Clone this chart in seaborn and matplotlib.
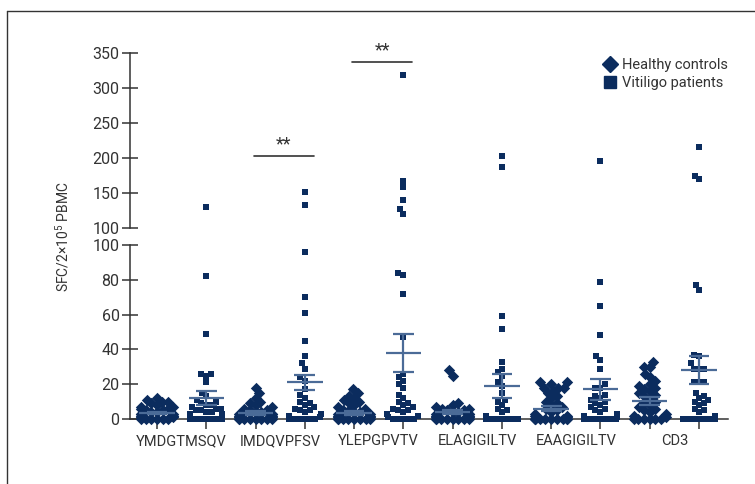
import numpy as np
import pandas as pd
import matplotlib
matplotlib.use("Agg")
import matplotlib.pyplot as plt
from matplotlib.lines import Line2D
import seaborn as sns

# peptides on the x axis
peptides = ["YMDGTMSQV", "IMDQVPFSV", "YLEPGPVTV", "ELAGIGILTV", "EAAGIGILTV", "CD3"]
groups = ["Healthy controls", "Vitiligo patients"]

# SFC/2x10^5 PBMC, healthy controls (hc) and vitiligo patients (vp)
hc_ymdg = [0, 0, 0, 0, 0, 0, 1, 1, 2, 2, 2, 3, 3, 3, 4, 4, 5, 5, 6, 6, 7, 7, 8, 9, 10, 10, 11, 12]
vp_ymdg = [130, 82, 49, 26, 26, 25, 21, 15, 13, 11, 10, 9, 8, 8, 7, 6, 6, 5, 5, 4, 4, 3, 3, 2, 2, 1,
           0, 0, 0, 0, 0, 0, 0, 0, 0, 0, 0, 0]
hc_imdq = [18, 15, 12, 10, 9, 8, 7, 6, 5, 5, 4, 4, 3, 3, 3, 2, 2, 1, 1, 0, 0, 0, 0, 0, 0, 0, 0]
vp_imdq = [152, 133, 96, 70, 61, 45, 36, 32, 29, 24, 22, 17, 14, 12, 10, 9, 8, 7, 6, 5, 5, 4, 3, 2, 1,
           0, 0, 0, 0, 0, 0]
hc_ylep = [17, 15, 13, 12, 11, 10, 9, 8, 7, 6, 5, 5, 4, 4, 3, 3, 2, 2, 1, 1, 0, 0, 0, 0, 0, 0, 0, 0]
vp_ylep = [318, 167, 158, 140, 127, 120, 84, 83, 72, 47, 26, 24, 22, 20, 18, 14, 12, 10, 9, 8, 7, 6,
           5, 5, 4, 3, 2, 1, 0, 0, 0, 0, 0]
hc_elag = [28, 25, 9, 8, 7, 6, 6, 5, 5, 4, 4, 3, 3, 3, 2, 2, 1, 1, 0, 0, 0, 0, 0, 0, 0, 0]
vp_elag = [203, 187, 59, 52, 33, 29, 27, 25, 21, 19, 15, 11, 10, 8, 6, 5, 4, 2, 0, 0, 0, 0, 0, 0, 0,
           0, 0, 0]
hc_eaag = [21, 21, 20, 18, 18, 18, 16, 15, 13, 12, 10, 9, 8, 7, 6, 5, 4, 3, 2, 2, 1, 0, 0, 0, 0, 0,
           0, 0, 0, 0, 0]
vp_eaag = [196, 79, 65, 48, 36, 34, 29, 20, 18, 18, 14, 13, 12, 11, 10, 9, 8, 7, 6, 5, 4, 3, 2, 1,
           0, 0, 0, 0, 0, 0, 0, 0]
hc_cd3 = [33, 30, 30, 26, 24, 22, 20, 19, 18, 17, 16, 15, 14, 13, 12, 10, 9, 8, 7, 6, 5, 4, 3, 2, 1,
          0, 0, 0, 0, 0, 0]
vp_cd3 = [216, 175, 170, 77, 74, 37, 36, 32, 29, 29, 29, 21, 21, 21, 15, 13, 12, 11, 10, 9, 8, 6, 5,
          4, 2, 0, 0, 0, 0, 0, 0, 0, 0]

# mean and SEM bars as drawn in the figure
hc_mean = [3.5, 3.5, 3.5, 4.0, 6.0, 10.3]
hc_sem = [0.8, 1.0, 1.0, 1.3, 1.2, 2.2]
vp_mean = [12.0, 21.0, 38.0, 19.0, 17.0, 28.0]
vp_sem = [4.0, 4.5, 11.0, 7.0, 6.0, 8.0]

# significance marks: peptide index and bracket height
sig_left = [1, 2]
sig_y = [203, 337]

hc_all = [hc_ymdg, hc_imdq, hc_ylep, hc_elag, hc_eaag, hc_cd3]
vp_all = [vp_ymdg, vp_imdq, vp_ylep, vp_elag, vp_eaag, vp_cd3]

rows = []
for pep, hc, vp in zip(peptides, hc_all, vp_all):
    for v in hc:
        rows.append((pep + "|HC", groups[0], v))
    for v in vp:
        rows.append((pep + "|VP", groups[1], v))
df = pd.DataFrame(rows, columns=["slot", "group", "sfc"])
order = [p + s for p in peptides for s in ("|HC", "|VP")]

NAVY = "#0b2c5e"
BAR = "#4b6b97"
INK = "#333333"

sns.set_style("ticks")
plt.rcParams["font.family"] = ["Roboto", "DejaVu Sans"]
plt.rcParams["mathtext.default"] = "regular"
plt.rcParams["text.color"] = INK

fig = plt.figure(figsize=(7.55, 4.84), dpi=100)
ax_top = fig.add_axes([130 / 755, 1 - 228 / 484, 598 / 755, 175 / 484])
ax_bot = fig.add_axes([130 / 755, 1 - 419 / 484, 598 / 755, 174 / 484])

low = df[df["sfc"] <= 100]
high = df[df["sfc"] > 100]
swarms = []  # (collection, final marker size)
for ax, part in ((ax_bot, low), (ax_top, high)):
    for grp, mk, sz, final in ((groups[0], "D", 4.8, 5.8), (groups[1], "s", 4.4, 5.0)):
        n0 = len(ax.collections)
        sub = part[part["group"] == grp]
        sns.swarmplot(data=sub, x="slot", y="sfc", order=order, marker=mk, color=NAVY,
                      size=sz, linewidth=0, ax=ax, warn_thresh=1.0)
        for c in ax.collections[n0:]:
            c.set_clip_on(False)
            swarms.append((c, final))
    ax.set_xlim(-0.548, 11.589)
    ax.set_xlabel("")
    ax.set_ylabel("")

ax_bot.set_ylim(0, 100)
ax_top.set_ylim(100, 350)
ax_bot.set_yticks([0, 20, 40, 60, 80, 100])
ax_top.set_yticks([100, 150, 200, 250, 300, 350])

# mean +/- SEM
means = np.array([m for pair in zip(hc_mean, vp_mean) for m in pair])
sems = np.array([s for pair in zip(hc_sem, vp_sem) for s in pair])
pos = np.arange(len(order))
ax_bot.hlines(means, pos - 0.36, pos + 0.36, color=BAR, lw=1.6, zorder=4)
ax_bot.vlines(pos, means - sems, means + sems, color=BAR, lw=1.6, zorder=4)
ax_bot.hlines(means + sems, pos - 0.21, pos + 0.21, color=BAR, lw=1.6, zorder=4)
ax_bot.hlines(means - sems, pos - 0.21, pos + 0.21, color=BAR, lw=1.6, zorder=4)

for ax in (ax_top, ax_bot):
    sns.despine(ax=ax)
    ax.spines["left"].set_color(INK)
    ax.spines["left"].set_linewidth(1.1)
    ax.tick_params(axis="y", direction="inout", length=11, width=1.1, color=INK,
                   labelsize=11.5, labelcolor=INK, pad=2)
ax_top.spines["bottom"].set_visible(False)
ax_top.set_xticks([])
ax_bot.spines["bottom"].set_color(INK)
ax_bot.spines["bottom"].set_linewidth(1.1)
ax_bot.set_xticks(pos)
ax_bot.set_xticklabels([])
ax_bot.tick_params(axis="x", which="major", direction="out", length=7, width=1.1, color=INK)
ax_bot.set_xticks(np.arange(len(peptides)) * 2 + 0.5, minor=True)
ax_bot.set_xticklabels(peptides, minor=True)
ax_bot.tick_params(axis="x", which="minor", length=0, pad=11, labelsize=10.5, labelcolor=INK)

# significance marks
for i, y in zip(sig_left, sig_y):
    x0 = 2 * i - 0.04
    x1 = 2 * i + 1.18
    ax_top.plot([x0, x1], [y, y], color=INK, lw=1.2, clip_on=False)
    ax_top.text((x0 + x1) / 2, y + 4, "**", ha="center", va="bottom", fontsize=13,
                color=INK, clip_on=False)

fig.text(62 / 755, 1 - 237 / 484, "SFC/2×10$^5$ PBMC", rotation=90, ha="center",
         va="center", fontsize=10, color=INK)

handles = [Line2D([], [], marker="D", ls="", color=NAVY, markersize=8),
           Line2D([], [], marker="s", ls="", color=NAVY, markersize=8)]
fig.legend(handles, groups, loc="upper left", bbox_to_anchor=(603 / 755, 1 - 58 / 484),
           frameon=False, fontsize=10.5, handlelength=1.0, handletextpad=0.3,
           labelspacing=0.3, borderpad=0, borderaxespad=0)

# outer frame of the figure panel
fig.add_artist(Line2D([7 / 755, 7 / 755], [0, 1 - 11 / 484], transform=fig.transFigure,
                      color=INK, lw=1.0))
fig.add_artist(Line2D([7 / 755, 1], [1 - 11 / 484, 1 - 11 / 484], transform=fig.transFigure,
                      color=INK, lw=1.0))

# let seaborn lay out the swarms, then pull them tighter and enlarge the markers
# (the original dot plot lets points overlap)
fig.canvas.draw()
for c, final in swarms:
    if "draw" in c.__dict__:
        del c.draw
    off = np.asarray(c.get_offsets(), dtype=float)
    if len(off) == 0:
        continue
    center = np.round(np.median(off[:, 0]))
    off[:, 0] = center + (off[:, 0] - center) * 0.82
    c.set_offsets(off)
    c.set_sizes([final ** 2])

fig.savefig("out.png", dpi=100)
